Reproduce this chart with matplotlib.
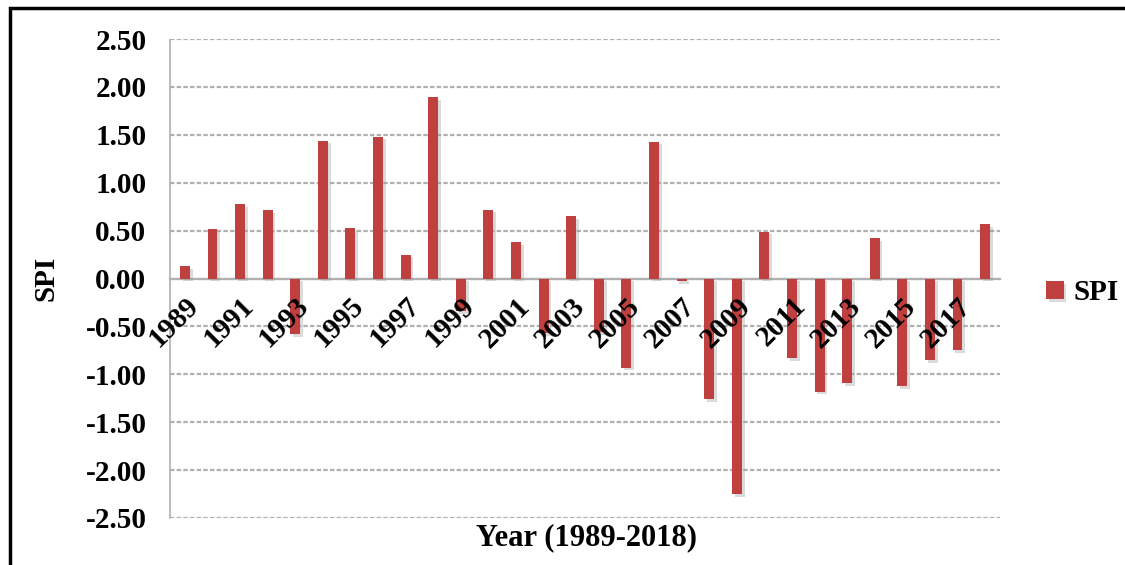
import matplotlib
matplotlib.use("Agg")
import matplotlib.pyplot as plt
import matplotlib.patheffects as pe
import numpy as np
from matplotlib.patches import Rectangle

years = list(range(1989, 2019))
spi = [0.13, 0.52, 0.78, 0.71, -0.58, 1.44, 0.53, 1.48, 0.25, 1.89,
       -0.34, 0.72, 0.38, -0.57, 0.65, -0.56, -0.93, 1.43, -0.03, -1.26,
       -2.25, 0.49, -0.83, -1.18, -1.09, 0.42, -1.12, -0.85, -0.75, 0.57]
yticks = [2.5, 2.0, 1.5, 1.0, 0.5, 0.0, -0.5, -1.0, -1.5, -2.0, -2.5]

C_BAR = "#C0403F"
C_GRID = "#b0b0b0"

plt.rcParams.update({
    "font.family": ["Liberation Serif", "DejaVu Serif"],
    "font.weight": "bold",
    "font.size": 20,
})

fig = plt.figure(figsize=(11.25, 5.65), dpi=100)
W, H = 1125, 565
ax = fig.add_axes([170 / W, 1 - 518 / H, (1000 - 170) / W, (518 - 39) / H])

# outer frame
fig.patches.append(Rectangle((10 / W, -0.05), 1.2, 1 - 8 / H + 0.05,
                             transform=fig.transFigure, fill=False,
                             edgecolor="black", linewidth=2.5))

ax.spines["bottom"].set_position(("data", 0))

x = np.arange(len(years))
bars = ax.bar(x, spi, 0.36, color=C_BAR, zorder=2, label="SPI")
for b in bars:
    b.set_path_effects([pe.SimplePatchShadow(offset=(2, -2), shadow_rgbFace="#999999", alpha=0.35),
                        pe.Normal()])

ax.set_ylim(-2.5, 2.5)
ax.set_xlim(-0.54, len(years) - 0.46)
ax.set_yticks(yticks)
ax.set_yticklabels([f"{v:.2f}" for v in yticks], fontsize=21, fontweight="bold")
ax.yaxis.grid(True, color=C_GRID, linestyle=(0, (2, 1)), linewidth=1.6)
ax.tick_params(axis="y", length=0, pad=17)

odd = [i for i, yr in enumerate(years) if yr % 2 == 1]
ax.set_xticks(odd)
ax.set_xticklabels([str(years[i]) for i in odd], rotation=45, ha="right",
                   rotation_mode="anchor", fontsize=21, fontweight="bold")
ax.tick_params(axis="x", length=0, pad=10)

# grid behind the bars, year labels over them
ax.yaxis.set_zorder(0.5)
ax.xaxis.set_zorder(4)

ax.spines["bottom"].set_color(C_GRID)
ax.spines["bottom"].set_linestyle((0, (2, 1)))
ax.spines["bottom"].set_linewidth(1.6)
ax.spines["bottom"].set_zorder(1)
ax.spines["left"].set_color(C_GRID)
ax.spines["left"].set_linestyle((0, (2, 1)))
ax.spines["left"].set_linewidth(1.2)
ax.spines["top"].set_visible(False)
ax.spines["right"].set_visible(False)

fig.text(46 / W, 1 - 278 / H, "SPI", rotation=90, ha="center", va="center",
         fontsize=21, fontweight="bold")
fig.text(586 / W, 1 - 538 / H, "Year (1989-2018)", ha="center", va="center",
         fontsize=22, fontweight="bold")

ax.legend(loc="center left", bbox_to_anchor=(1046 / W, 1 - 293 / H),
          bbox_transform=fig.transFigure, frameon=False, fontsize=21,
          handlelength=0.6, handleheight=0.6, handletextpad=0.35,
          borderpad=0, borderaxespad=0)

fig.savefig("out.png", dpi=100)
